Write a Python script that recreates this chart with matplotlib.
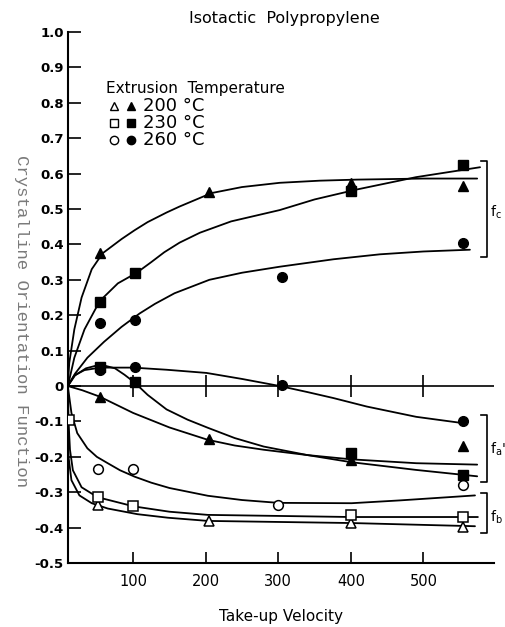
import numpy as np
import matplotlib
matplotlib.use('Agg')
import matplotlib.pyplot as plt

# ---- measured points (take-up velocity, orientation function) ----
# crystalline f_c, filled markers
fc200_v = [55, 205, 400, 555]
fc200_f = [0.375, 0.547, 0.573, 0.565]
fc230_v = [55, 103, 400, 555]
fc230_f = [0.238, 0.32, 0.552, 0.625]
fc260_v = [55, 103, 305, 555]
fc260_f = [0.178, 0.187, 0.309, 0.405]

# amorphous f_a', filled markers
fa200_v = [55, 205, 400, 555]
fa200_f = [-0.03, -0.15, -0.21, -0.17]
fa230_v = [55, 103, 400, 555]
fa230_f = [0.055, 0.01, -0.19, -0.252]
fa260_v = [55, 103, 305, 555]
fa260_f = [0.045, 0.055, 0.004, -0.10]

# f_b, open markers
fb200_v = [52, 205, 400, 555]
fb200_f = [-0.337, -0.382, -0.388, -0.397]
fb230_v = [12, 52, 100, 400, 555]
fb230_f = [-0.096, -0.314, -0.34, -0.363, -0.371]
fb260_v = [52, 100, 300, 555]
fb260_f = [-0.235, -0.235, -0.337, -0.28]

# ---- hand drawn curves ----
c_fc200_v = [10, 12, 19, 29, 43, 58, 84, 102, 120, 146, 164, 208, 250, 302, 357, 408, 500, 574]
c_fc200_f = [0, 0.065, 0.16, 0.25, 0.33, 0.375, 0.415, 0.44, 0.463, 0.49, 0.507, 0.545,
             0.562, 0.574, 0.58, 0.583, 0.586, 0.586]
c_fc230_v = [10, 12, 19, 33, 54, 79, 105, 125, 143, 164, 192, 235, 302, 350, 408, 490, 578]
c_fc230_f = [0, 0.017, 0.08, 0.16, 0.24, 0.29, 0.32, 0.35, 0.378, 0.405, 0.433, 0.465,
             0.497, 0.527, 0.555, 0.59, 0.618]
c_fc260_v = [10, 20, 37, 60, 84, 109, 130, 157, 205, 250, 302, 376, 440, 500, 564]
c_fc260_f = [0, 0.035, 0.08, 0.125, 0.167, 0.205, 0.232, 0.262, 0.30, 0.32, 0.337, 0.358,
             0.372, 0.38, 0.385]

c_fa200_v = [10, 30, 54, 100, 150, 203, 240, 280, 340, 400, 490, 574]
c_fa200_f = [0, -0.012, -0.03, -0.076, -0.117, -0.152, -0.168, -0.18, -0.195, -0.207,
             -0.218, -0.222]
c_fa230_v = [10, 20, 35, 48, 60, 75, 88, 102, 120, 146, 175, 203, 240, 280, 340, 400, 490, 574]
c_fa230_f = [0, 0.03, 0.05, 0.057, 0.058, 0.05, 0.032, 0.01, -0.025, -0.066, -0.095,
             -0.118, -0.147, -0.171, -0.195, -0.215, -0.237, -0.255]
c_fa260_v = [10, 19, 33, 55, 100, 146, 201, 250, 302, 340, 376, 422, 490, 555]
c_fa260_f = [0, 0.03, 0.045, 0.052, 0.052, 0.046, 0.037, 0.02, 0.0, -0.017, -0.034, -0.058,
             -0.087, -0.105]

c_fb200_v = [10, 11, 15, 26, 43, 65, 106, 148, 203, 401, 571]
c_fb200_f = [0, -0.2, -0.266, -0.309, -0.331, -0.346, -0.362, -0.372, -0.381, -0.387, -0.396]
c_fb230_v = [10, 11, 13, 17, 29, 51, 101, 150, 203, 401, 575]
c_fb230_f = [0, -0.1, -0.18, -0.238, -0.286, -0.314, -0.34, -0.355, -0.364, -0.37, -0.37]
c_fb260_v = [10, 15, 23, 37, 50, 65, 82, 102, 125, 150, 203, 250, 300, 401, 468, 571]
c_fb260_f = [0, -0.076, -0.133, -0.176, -0.2, -0.218, -0.238, -0.256, -0.273, -0.288,
             -0.31, -0.322, -0.33, -0.331, -0.323, -0.309]

yticks = [1.0, 0.9, 0.8, 0.7, 0.6, 0.5, 0.4, 0.3, 0.2, 0.1, 0.0, -0.1, -0.2, -0.3, -0.4, -0.5]
ytick_lbls = ['1.0', '0.9', '0.8', '0.7', '0.6', '0.5', '0.4', '0.3', '0.2', '0.1', '0',
              '-0.1', '-0.2', '-0.3', '-0.4', '-0.5']
xticks = [100, 200, 300, 400, 500]
legend_temps = ['200 °C', '230 °C', '260 °C']

plt.rcParams['font.family'] = ['DejaVu Sans']

fig = plt.figure(figsize=(5.06, 6.27), dpi=100)
ax = fig.add_axes([0.134, 0.102, 0.842, 0.847])

lw = 1.3
for v, f in [(c_fc200_v, c_fc200_f), (c_fc230_v, c_fc230_f), (c_fc260_v, c_fc260_f),
             (c_fa200_v, c_fa200_f), (c_fa230_v, c_fa230_f), (c_fa260_v, c_fa260_f),
             (c_fb200_v, c_fb200_f), (c_fb230_v, c_fb230_f), (c_fb260_v, c_fb260_f)]:
    ax.plot(v, f, color='k', lw=lw, solid_capstyle='round', solid_joinstyle='round', zorder=2)

# zero line with its cross ticks
ax.axhline(0, color='k', lw=1.2, zorder=1)
ax.plot(xticks, [0] * len(xticks), ls='none', marker='|', ms=16, mew=1.2, color='k')

ms = 7
filled = dict(ls='none', color='k', zorder=3)
for v, f, m in [(fc200_v, fc200_f, '^'), (fc230_v, fc230_f, 's'), (fc260_v, fc260_f, 'o'),
                (fa200_v, fa200_f, '^'), (fa230_v, fa230_f, 's'), (fa260_v, fa260_f, 'o')]:
    ax.plot(v, f, marker=m, ms=ms, **filled)
for v, f, m in [(fb200_v, fb200_f, '^'), (fb230_v, fb230_f, 's'), (fb260_v, fb260_f, 'o')]:
    ax.plot(v, f, marker=m, ms=ms, ls='none', mfc='white', mec='k', mew=1.1, zorder=3)

ax.set_xlim(10, 597)
ax.set_ylim(-0.5, 1.0)
ax.spines['top'].set_visible(False)
ax.spines['right'].set_visible(False)
ax.spines['left'].set_linewidth(1.5)
ax.spines['bottom'].set_linewidth(1.5)

ax.set_yticks(yticks)
ax.set_yticklabels(ytick_lbls, fontweight='bold', fontsize=9.5)
ax.set_xticks(xticks)
ax.set_xticklabels([str(t) for t in xticks], fontsize=10.5)
ax.tick_params(axis='y', direction='in', length=9, width=1.2, pad=3)
ax.tick_params(axis='x', direction='in', length=8, width=1.2, pad=8)
ax.set_xlabel('Take-up Velocity', fontsize=11, labelpad=14)

fig.text(21 / 506, 1 - 321 / 627, 'Crystalline Orientation Function', rotation=270,
         family='Liberation Mono', color='#7a7a7a', fontsize=12.5, ha='center', va='center')
fig.text(284 / 506, 1 - 18 / 627, 'Isotactic  Polypropylene', fontsize=11.5,
         ha='center', va='center')

# legend block drawn by hand
ax.text(63, 0.841, 'Extrusion  Temperature', fontsize=11, va='center')
leg_y = [0.79, 0.742, 0.694]
for (m, lbl), yy in zip(zip(['^', 's', 'o'], legend_temps), leg_y):
    ax.plot([74], [yy], marker=m, ms=6, mfc='white', mec='k', mew=1, ls='none')
    ax.plot([97], [yy], marker=m, ms=6, color='k', ls='none')
    ax.text(114, yy, lbl, fontsize=13, va='center')

# brackets on the right
def bracket(y0, y1, lbl, ylbl):
    xb = 588
    ax.plot([xb - 9, xb, xb, xb - 9], [y0, y0, y1, y1], color='k', lw=1.2, clip_on=False)
    ax.text(xb + 4, ylbl, lbl, fontsize=10, va='center', clip_on=False)

bracket(0.635, 0.365, r'$\mathregular{f_c}$', 0.49)
bracket(-0.082, -0.272, r"$\mathregular{f_a}$'", -0.18)
bracket(-0.303, -0.416, r'$\mathregular{f_b}$', -0.37)

fig.savefig('out.png', dpi=100)
